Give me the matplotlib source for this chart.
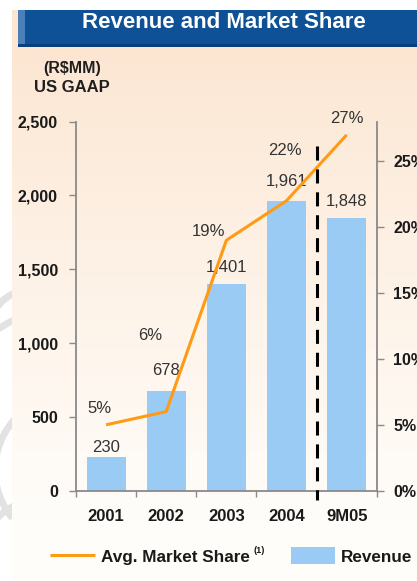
import numpy as np
import matplotlib
matplotlib.use("Agg")
import matplotlib.pyplot as plt
import matplotlib.transforms as mtransforms
from matplotlib.patches import Rectangle, Arc
from matplotlib.text import Annotation

# ---- data -------------------------------------------------------------
categories = ["2001", "2002", "2003", "2004", "9M05"]
revenue = [230, 678, 1401, 1961, 1848]            # R$ MM
market_share = [5, 6, 19, 22, 27]                 # %
revenue_ticks = [0, 500, 1000, 1500, 2000, 2500]
share_ticks = [0, 5, 10, 15, 20, 25]

# label placement (points) relative to each mark
share_label_offsets = [(-5, 12), (-11.5, 55), (-13, 6.7), (-1.4, 36.5), (0, 12)]
revenue_label_offsets = [7, 14.5, 12, 14, 12]

plt.rcParams['font.family'] = ['Liberation Sans', 'DejaVu Sans']

W, H = 417, 581
fig = plt.figure(figsize=(W / 100, H / 100), dpi=100)

# ---- page background: peach-to-white gradient, title banner ------------
bg = fig.add_axes([0, 0, 1, 1], zorder=-10)
bg.set_axis_off()
top = np.array([252, 230, 210]) / 255.0
bottom = np.array([255, 253, 250]) / 255.0
rows = np.arange(H)
t = np.clip((rows - 47) / (520 - 47), 0, 1) ** 0.9
col = top[None, :] * (1 - t[:, None]) + bottom[None, :] * t[:, None]
img = np.repeat(col[:, None, :], W, axis=1)
img[:, :12, :] = 1.0
img[:10, :, :] = 1.0
bg.imshow(img, extent=(0, W, H, 0), aspect='auto', interpolation='bilinear')
bg.set_xlim(0, W)
bg.set_ylim(H, 0)

# faint watermark swirl on the left margin
clip = Rectangle((0, 0), 12, H, transform=bg.transData)
for (cx, cy, r, a1, a2) in [(60, 420, 110, 150, 260), (70, 470, 75, 140, 250),
                             (40, 560, 60, 160, 260), (30, 330, 40, 170, 280)]:
    arc = Arc((cx, cy), 2 * r, 2 * r, theta1=a1, theta2=a2,
              color='#e2e2e2', lw=5)
    bg.add_patch(arc)
    arc.set_clip_path(clip)

bg.add_patch(Rectangle((18, 10), W - 18, 37, color='#0E5196', lw=0))
bg.add_patch(Rectangle((18, 10), 7, 37, color='#4A7FB8', lw=0))
bg.add_patch(Rectangle((18, 44), W - 18, 3, color='#093F7A', lw=0))
bg.text(224, 22.5, "Revenue and Market Share", color='white', fontsize=16,
        fontweight='bold', ha='center', va='center')
bg.text(72, 68, "(R$MM)", color='#1f1f1f', fontsize=11.5, fontweight='bold',
        ha='center', va='center')
bg.text(72, 87, "US GAAP", color='#1f1f1f', fontsize=12, fontweight='bold',
        ha='center', va='center')

# ---- main chart ---------------------------------------------------------
x0, x1, y_top, y_bot = 76, 376.7, 121.7, 490.7
ax = fig.add_axes([x0 / W, 1 - y_bot / H, (x1 - x0) / W, (y_bot - y_top) / H])
ax.set_facecolor('none')
x = np.arange(len(categories))

bars = ax.bar(x, revenue, width=0.65, color='#99CBF4', zorder=2)
ax.set_xlim(-0.5, len(categories) - 0.5)
ax.set_ylim(0, 2500)

for xi, v, off in zip(x, revenue, revenue_label_offsets):
    ax.annotate(f"{v:,}", (xi, v), xytext=(0, off), textcoords='offset points',
                ha='center', va='center', fontsize=12, color='#333333')

spine_c = '#8a8a8a'
for s in ['top', 'right']:
    ax.spines[s].set_visible(False)
for s in ['left', 'bottom']:
    ax.spines[s].set_color(spine_c)
    ax.spines[s].set_linewidth(1.3)

ax.set_yticks(revenue_ticks)
ax.set_yticklabels([f"{v:,}" for v in revenue_ticks])
ax.tick_params(axis='y', direction='out', length=5, width=1, color=spine_c,
               pad=8, labelsize=11.5, labelcolor='#1a1a1a')
ax.set_xticks(x)
ax.set_xticklabels(categories)
ax.set_xticks(np.arange(-0.5, len(categories), 1.0), minor=True)
ax.tick_params(axis='x', which='major', length=0, pad=13, labelsize=12,
               labelcolor='#1a1a1a')
ax.tick_params(axis='x', which='minor', direction='out', length=4, width=1,
               color=spine_c)
for lbl in ax.get_xticklabels() + ax.get_yticklabels():
    lbl.set_fontweight('bold')

# ---- market share line on the secondary axis ------------------------------
ax2 = ax.twinx()
ax2.set_ylim(0, 28)
for s in ['top', 'left', 'bottom']:
    ax2.spines[s].set_visible(False)
ax2.spines['right'].set_color(spine_c)
ax2.spines['right'].set_linewidth(1.3)
line, = ax2.plot(x, market_share, color='#FF9A14', lw=2.2, zorder=3,
                 solid_capstyle='butt')
ax2.set_yticks(share_ticks)
ax2.set_yticklabels([f"{v}%" for v in share_ticks])
ax2.tick_params(axis='y', direction='out', length=5, width=1, color=spine_c,
                pad=7, labelsize=11.5, labelcolor='#1a1a1a')
for lbl in ax2.get_yticklabels():
    lbl.set_fontweight('bold')

for xi, v, off in zip(x, market_share, share_label_offsets):
    ax2.annotate(f"{v}%", (xi, v), xytext=off, textcoords='offset points',
                 ha='center', va='center', fontsize=12, color='#333333',
                 annotation_clip=False)

# divider between full years and the 9-month period
blend = mtransforms.blended_transform_factory(ax2.transData, ax2.transAxes)
ax2.plot([3.5, 3.5], [0.934, -0.025], transform=blend, color='black', lw=2.2,
         dashes=(4.6, 2.9), clip_on=False, zorder=4)

# ---- legend -------------------------------------------------------------
leg = fig.legend([line, bars], ["Avg. Market Share", "Revenue"],
                 loc='center', bbox_to_anchor=((53 + 410) / 2 / W, 1 - 556 / H),
                 ncol=2, frameon=False, handlelength=2.6, handleheight=1.15,
                 handletextpad=0.35, columnspacing=2.4,
                 prop={'weight': 'bold', 'size': 12.3})
for txt in leg.get_texts():
    txt.set_color('#1a1a1a')

# footnote marker after the market-share legend entry (superscript)
note = Annotation("(1)", xy=(1, 1), xycoords=leg.get_texts()[0],
                  xytext=(2.5, 2.5), textcoords='offset points',
                  ha='left', va='top', fontsize=6.5, fontweight='bold',
                  color='#1a1a1a')
note.set_zorder(10)
fig.add_artist(note)

fig.savefig("out.png", dpi=100)
